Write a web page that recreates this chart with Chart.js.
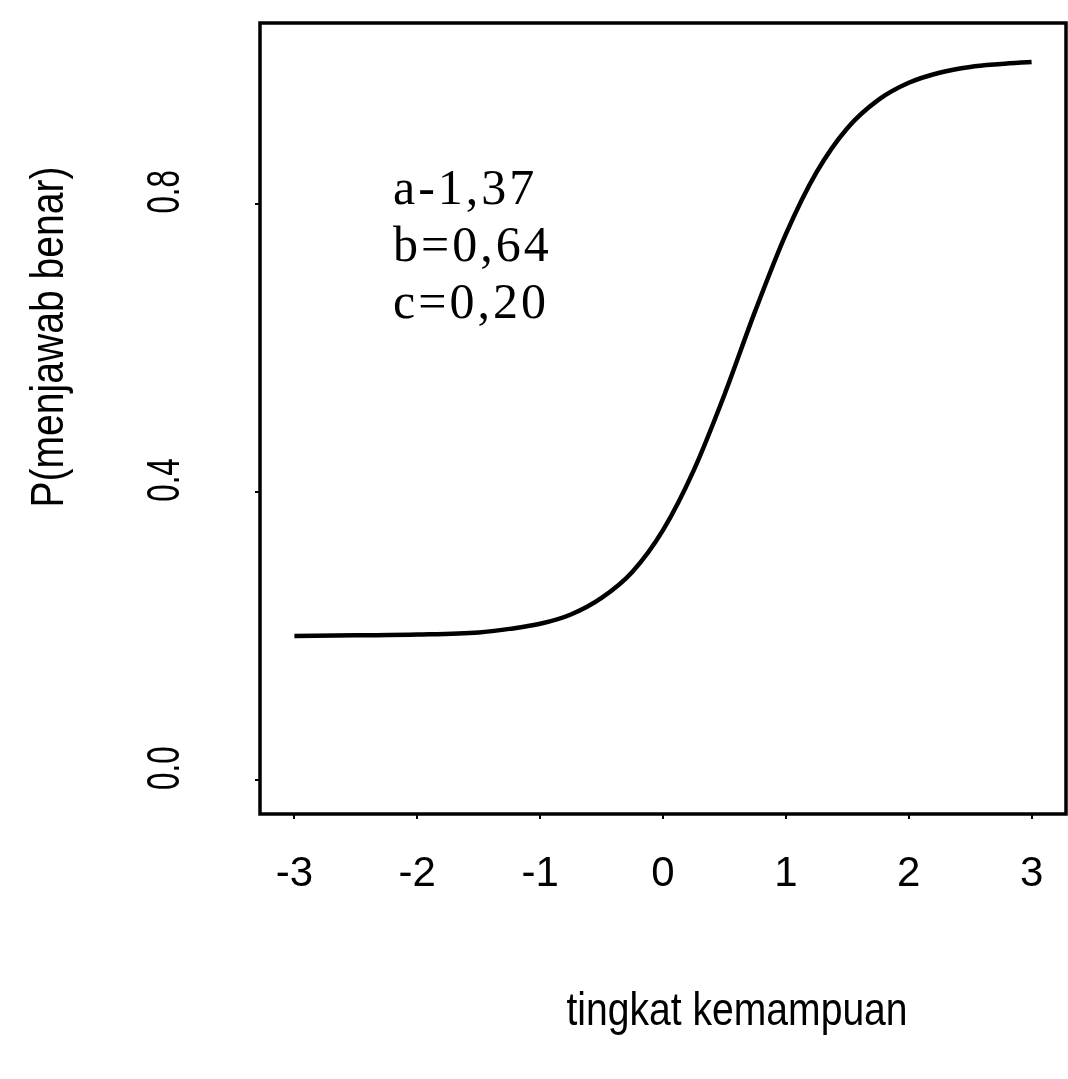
<!DOCTYPE html>
<html>
<head>
<meta charset="utf-8">
<script src="https://cdn.jsdelivr.net/npm/chart.js@4.4.1/dist/chart.umd.min.js"></script>
<style>
  html, body { margin: 0; padding: 0; background: #fff; }
  #wrap { width: 1068px; height: 1079px; }
</style>
</head>
<body>
<div id="wrap"><canvas id="iccChart"></canvas></div>
<script>
// ability level (theta) and probability of a correct answer
const theta = [-3, -2.5, -2, -1.5, -1.25, -1, -0.75, -0.5, -0.25, 0, 0.25, 0.5, 0.75, 1, 1.25, 1.5, 1.75, 2, 2.25, 2.5, 2.75, 3];
const pCorrect = [0.200, 0.201, 0.202, 0.205, 0.210, 0.217, 0.230, 0.253, 0.289, 0.347, 0.430, 0.535, 0.651, 0.758, 0.844, 0.905, 0.944, 0.968, 0.982, 0.990, 0.994, 0.997];

const xTicks = [-3, -2, -1, 0, 1, 2, 3];
const yTicks = [0.0, 0.4, 0.8];
const itemParams = ['a-1,37', 'b=0,64', 'c=0,20'];
const xTitle = 'tingkat kemampuan';
const yTitle = 'P(menjawab benar)';

const sansFont = '"Liberation Sans", Arial, sans-serif';

// draws text squeezed sideways, the scan uses a narrow sans
function narrowText(ctx, text, x, y, angle, squeeze) {
    ctx.save();
    ctx.translate(x, y);
    ctx.rotate(angle);
    ctx.scale(squeeze, 1);
    ctx.fillText(text, 0, 0);
    ctx.restore();
}

// R-style box, rotated y labels, axis titles and the item parameters
const frameAndText = {
    id: 'frameAndText',
    afterDraw(chart) {
        const { ctx, chartArea: area, scales } = chart;
        ctx.save();
        ctx.strokeStyle = '#000';
        ctx.lineWidth = 3.5;
        ctx.strokeRect(area.left, area.top, area.right - area.left, area.bottom - area.top);

        ctx.fillStyle = '#000';
        ctx.textAlign = 'center';
        ctx.textBaseline = 'middle';
        ctx.font = '46px ' + sansFont;
        yTicks.forEach(v => {
            const y = scales.y.getPixelForValue(v) - 12;
            narrowText(ctx, v.toFixed(1), 166, y, -Math.PI / 2, 0.68);
        });

        ctx.font = '46px ' + sansFont;
        narrowText(ctx, yTitle, 50, 337, -Math.PI / 2, 0.85);
        narrowText(ctx, xTitle, 737, 1012, 0, 0.85);

        ctx.font = '50px "Liberation Serif", "Times New Roman", serif';
        ctx.textAlign = 'left';
        ctx.letterSpacing = '3px';
        itemParams.forEach((t, i) => {
            ctx.fillText(t, area.left + 133, area.top + 168 + i * 57);
        });
        ctx.restore();
    }
};

new Chart(document.getElementById('iccChart'), {
    type: 'line',
    data: {
        datasets: [{
            data: theta.map((t, i) => ({ x: t, y: pCorrect[i] })),
            borderColor: '#000',
            borderWidth: 4.5,
            pointRadius: 0,
            cubicInterpolationMode: 'monotone',
            fill: false
        }]
    },
    options: {
        responsive: true,
        maintainAspectRatio: false,
        animation: false,
        layout: { padding: { left: 0, top: 23, right: 2, bottom: 0 } },
        plugins: {
            legend: { display: false },
            tooltip: { enabled: false }
        },
        scales: {
            x: {
                type: 'linear',
                min: -3.28,
                max: 3.28,
                afterBuildTicks: s => { s.ticks = xTicks.map(v => ({ value: v })); },
                afterFit: s => {
                    s.height = 265;
                    s.paddingLeft = 0;
                    s.paddingRight = 0;
                },
                grid: { drawOnChartArea: false, tickLength: 5, color: '#000', lineWidth: 2 },
                border: { display: false },
                ticks: {
                    color: '#000',
                    padding: 30,
                    maxRotation: 0,
                    font: { family: sansFont, size: 42 }
                }
            },
            y: {
                type: 'linear',
                min: -0.047,
                max: 1.051,
                afterBuildTicks: s => { s.ticks = yTicks.map(v => ({ value: v })); },
                afterFit: s => {
                    s.width = 260;
                    s.paddingTop = 0;
                    s.paddingBottom = 0;
                },
                grid: { drawOnChartArea: false, tickLength: 5, color: '#000', lineWidth: 2 },
                border: { display: false },
                ticks: { display: false }
            }
        }
    },
    plugins: [frameAndText]
});
</script>
</body>
</html>
